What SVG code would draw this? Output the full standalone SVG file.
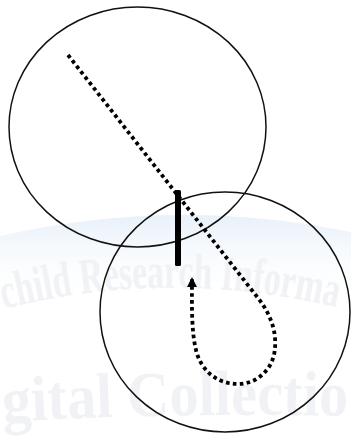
<svg xmlns="http://www.w3.org/2000/svg" width="351" height="436" viewBox="0 0 351 436">
  <defs>
    <linearGradient id="band" x1="0" y1="0" x2="0" y2="1">
      <stop offset="0" stop-color="#e8f0fa" stop-opacity="1"/>
      <stop offset="1" stop-color="#ffffff" stop-opacity="0"/>
    </linearGradient>
    <path id="arc1" d="M4,309 Q172,266 348,310"/>
    <path id="arc2" d="M3,422 Q175,412 350,416"/>
    <marker id="arrow" viewBox="0 0 10 10" refX="9" refY="5" markerWidth="2.8" markerHeight="2.6" orient="auto" markerUnits="strokeWidth">
      <path d="M0,0 L10,5 L0,10 Z" fill="#000"/>
    </marker>
  </defs>
  <style>
    .circle { fill: none; stroke: #111; stroke-width: 1.5; }
    .dots { fill: none; stroke: #000; stroke-width: 3.8; stroke-dasharray: 3.6 3.3; }
    .wm { font-family: "Liberation Serif", "DejaVu Serif", serif; font-weight: bold; fill: #f1f2f5; }
  </style>
  <rect width="351" height="436" fill="#fff"/>
  <g id="watermark">
    <path d="M0,236 Q175,196 351,232 L351,300 Q175,262 0,304 Z" fill="url(#band)"/>
    <text class="wm" font-size="50"><textPath href="#arc1" textLength="336" lengthAdjust="spacingAndGlyphs">child Research Informa</textPath></text>
    <text class="wm" font-size="64"><textPath href="#arc2" textLength="345" lengthAdjust="spacingAndGlyphs">gital Collectio</textPath></text>
  </g>
  <g id="circle-top">
    <ellipse class="circle" cx="137.5" cy="127" rx="128.5" ry="120"/>
  </g>
  <g id="circle-bottom">
    <ellipse class="circle" cx="225" cy="312" rx="125" ry="120"/>
  </g>
  <g id="barrier">
    <rect x="175" y="190" width="6" height="76" rx="1.5" fill="#000"/>
  </g>
  <g id="connectors">
    <path class="dots" d="M68,55 L258,298 C272,316 278,335 274,355 C270,372 255,384 238,384 C215,384 200,368 196,350 C191,330 192,300 192,278" marker-end="url(#arrow)"/>
  </g>
</svg>
